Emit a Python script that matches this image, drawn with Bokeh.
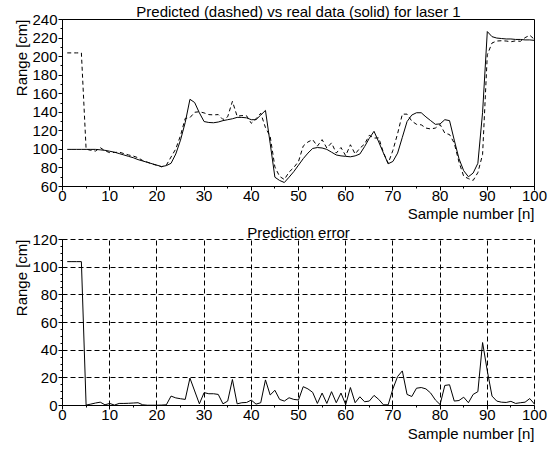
from bokeh.plotting import figure
from bokeh.layouts import column
from bokeh.models import Title, SingleIntervalTicker, Range1d
from bokeh.embed import file_html
from bokeh.resources import INLINE

# ---------------- data ----------------
sample = list(range(1, 101))

real = [100, 100, 100, 100, 100, 100, 100, 99.5, 99, 98,
        97, 95.5, 94, 92.5, 91, 89, 87.5, 86, 84.5, 83,
        81.5, 82.5, 85, 95, 110, 129, 154, 150.5, 139.4, 130,
        129, 128.7, 129.5, 131, 132, 133, 134.5, 134.5, 134, 132,
        132, 137, 142, 106.4, 70, 66.5, 64.3, 70, 76, 83,
        90, 96, 101, 102, 101.5, 100, 97, 94, 93, 92.5,
        92, 93, 95, 103, 112, 119.5, 108, 96, 84.5, 87,
        96, 113, 130, 137, 139.5, 139.5, 135, 131, 127, 127.5,
        132, 131, 110, 90, 77, 70.5, 74.5, 85, 140, 227,
        221.5, 220, 219.5, 219, 219, 218.5, 218.5, 218, 218, 217.5]

predicted = [204, 204, 204, 204, 100.3, 99, 98.2, 101.9, 98.5, 96.5,
             96.7, 97, 95.5, 94, 92.8, 91, 88, 86.2, 84.3, 82.8,
             81.2, 83, 91.8, 100.5, 114.9, 133.4, 134.2, 140, 140.6, 139.3,
             137.5, 137.2, 137.5, 132.2, 135.2, 151.8, 135.7, 136.5, 136.2, 128.1,
             133, 139, 123.5, 114, 81, 70.9, 67.5, 75.6, 80.4, 87,
             103.6, 108, 110.5, 103.5, 110.5, 101.5, 107, 96, 102, 93.2,
             105, 95, 101.3, 105.7, 115.2, 112.2, 112.4, 96.5, 85, 99,
             117, 138, 138, 130.5, 127, 126.5, 123, 122, 123, 126.8,
             117.5, 116, 106.8, 86.4, 71, 68.5, 66.5, 75, 94.5, 202,
             214.7, 216.8, 217.1, 216.8, 216, 217, 216.5, 220.4, 223, 218.5]

error = [104, 104, 104, 104, 0.3, 1, 1.8, 2.4, 0.5, 1.5,
         0.3, 1.5, 1.5, 1.6, 1.8, 2, 0.5, 0.2, 0.2, 0.2,
         0.3, 0.5, 6.8, 5.5, 4.9, 4.4, 19.8, 10.5, 1.2, 9.3,
         8.5, 8.5, 8, 1.2, 3.2, 18.8, 1.2, 2, 2.2, 3.9,
         1, 2, 18.5, 7.6, 11, 4.4, 3.2, 5.6, 4.4, 4,
         13.6, 12, 9.5, 1.5, 9, 1.5, 10, 2, 9, 0.7,
         13, 2, 6.3, 2.7, 3.2, 7.3, 4.4, 0.5, 0.5, 12,
         21, 25, 8, 6.5, 12.5, 13, 12, 9, 4, 0.7,
         14.5, 15, 3.2, 3.6, 6, 2, 8, 10, 45.5, 25,
         6.8, 3.2, 2.4, 2.2, 3, 1.5, 2, 2.4, 5, 1]

title_top = "Predicted (dashed) vs real data (solid) for laser 1"
title_bottom = "Prediction error"
xlabel = "Sample number [n]"
ylabel = "Range [cm]"

# ---------------- styling ----------------
FONT = "Liberation Sans"
FS = "15px"
FW = 472


def style_axes(p, yint, yminor):
    p.xaxis.ticker = SingleIntervalTicker(interval=10, num_minor_ticks=2)
    p.yaxis.ticker = SingleIntervalTicker(interval=yint, num_minor_ticks=yminor)
    for ax in (p.xaxis[0], p.yaxis[0]):
        ax.axis_line_color = "black"
        ax.major_tick_line_color = "black"
        ax.minor_tick_line_color = "black"
        ax.major_tick_in = 0
        ax.major_tick_out = 4
        ax.minor_tick_in = 0
        ax.minor_tick_out = 2
        ax.major_label_text_font = FONT
        ax.major_label_text_font_size = FS
        ax.major_label_text_color = "black"
    p.xaxis.major_label_standoff = 0
    p.yaxis.major_label_standoff = 1


def mk_title(text, align, standoff=0):
    t = Title(text=text, align=align, text_font=FONT, text_font_size=FS,
              text_font_style="normal", text_color="black")
    try:
        t.standoff = standoff
    except Exception:
        pass
    return t


# top figure
p1 = figure(frame_width=FW, frame_height=167, min_border_left=62, min_border_right=24,
            min_border_top=18, min_border_bottom=36, output_backend="svg",
            toolbar_location=None, x_range=Range1d(0, 100), y_range=Range1d(60, 240))
p1.xgrid.visible = False
p1.ygrid.visible = False
p1.outline_line_color = "black"
p1.outline_line_alpha = 1.0
style_axes(p1, 20, 2)
p1.title = mk_title(title_top, "center")
p1.add_layout(mk_title(xlabel, "right", -2), "below")
p1.add_layout(mk_title(ylabel, "right"), "left")
p1.line(sample, real, line_color="black", line_width=1)
p1.line(sample, predicted, line_color="black", line_width=1, line_dash="4 3")

# bottom figure
p2 = figure(frame_width=FW, frame_height=166, min_border_left=62, min_border_right=24,
            min_border_top=14, min_border_bottom=40, output_backend="svg",
            toolbar_location=None, x_range=Range1d(0, 100), y_range=Range1d(0, 120))
p2.outline_line_color = "black"
p2.outline_line_dash = "5 3"
for g in (p2.xgrid[0], p2.ygrid[0]):
    g.grid_line_color = "black"
    g.grid_line_dash = "5 3"
    g.grid_line_width = 1
style_axes(p2, 20, 4)
p2.title = mk_title(title_bottom, "center", -2)
p2.add_layout(mk_title(xlabel, "right"), "below")
p2.add_layout(mk_title(ylabel, "right"), "left")
p2.line(sample, error, line_color="black", line_width=1)

layout = column(p1, p2, spacing=0)
open("out.html", "w").write(file_html(layout, INLINE))
